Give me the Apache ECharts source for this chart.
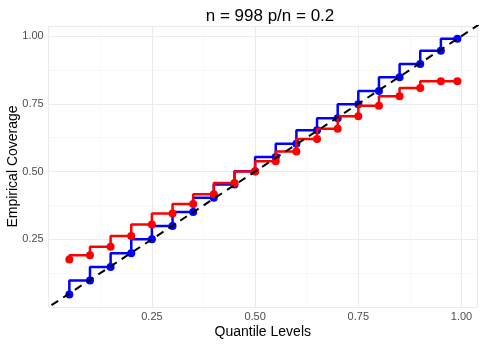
<!DOCTYPE html>
<html>
<head>
<meta charset="utf-8">
<script src="https://cdn.jsdelivr.net/npm/echarts@6/dist/echarts.min.js"></script>
<style>
  html, body { margin: 0; padding: 0; background: #fff; }
  #chart { width: 482px; height: 344px; }
</style>
</head>
<body>
<div id="chart"></div>
<script>
// quantile levels on the x axis
const levels = [0.05, 0.10, 0.15, 0.20, 0.25, 0.30, 0.35, 0.40, 0.45, 0.50,
                0.55, 0.60, 0.65, 0.70, 0.75, 0.80, 0.85, 0.90, 0.95, 0.99];
// empirical coverage
const blueCoverage = [0.046, 0.098, 0.148, 0.198, 0.250, 0.299, 0.351, 0.403, 0.452, 0.501,
                      0.554, 0.602, 0.652, 0.697, 0.748, 0.797, 0.848, 0.897, 0.946, 0.990];
const redCoverage = [0.175, 0.191, 0.222, 0.262, 0.304, 0.345, 0.380, 0.416, 0.458, 0.500,
                     0.538, 0.574, 0.620, 0.658, 0.704, 0.743, 0.778, 0.808, 0.833, 0.833];
// y = x reference line ends
const diagonal = [-0.05, 1.1];
const tickValues = [0.25, 0.50, 0.75, 1.00];

const FONT = "'Liberation Sans', Arial, sans-serif";

const chart = echarts.init(document.getElementById("chart"));

const isTick = v => tickValues.some(t => Math.abs(t - v) < 1e-9);

const axisCommon = {
  type: "value",
  interval: 0.25,
  min: 0,
  nameLocation: "middle",
  nameMoveOverlap: false,
  nameTextStyle: { fontFamily: FONT, fontSize: 14, color: "#000" },
  axisLine: { show: false },
  axisTick: { show: false },
  axisLabel: {
    fontFamily: FONT, fontSize: 11, color: "#4d4d4d",
    formatter: v => (isTick(v) ? v.toFixed(2) : "")
  },
  splitLine: { show: true, lineStyle: { color: "#ebebeb", width: 1.1 } },
  minorTick: { show: false, splitNumber: 2 },
  minorSplitLine: { show: true, lineStyle: { color: "#f4f4f4", width: 0.6 } }
};

const option = {
  animation: false,
  backgroundColor: "#fff",
  title: {
    text: "n = 998 p/n = 0.2",
    left: 265, top: 3, textAlign: "center",
    textStyle: { fontFamily: FONT, fontSize: 17, fontWeight: "normal", color: "#000" }
  },
  grid: { left: 48.7, right: 5.2, top: 26, bottom: 37, containLabel: false, outerBoundsMode: "none" },
  xAxis: Object.assign({}, axisCommon, {
    max: 1.037,
    name: "Quantile Levels",
    nameGap: 18,
    axisLabel: Object.assign({}, axisCommon.axisLabel, { margin: 4 })
  }),
  yAxis: Object.assign({}, axisCommon, {
    max: 1.037,
    name: "Empirical Coverage",
    nameGap: 28.5,
    axisLabel: Object.assign({}, axisCommon.axisLabel, { margin: 5 })
  }),
  series: [
    {
      name: "blue",
      type: "line",
      step: "start",
      data: levels.map((q, i) => [q, blueCoverage[i]]),
      symbol: "circle",
      symbolSize: 8,
      itemStyle: { color: "#0000ff" },
      lineStyle: { color: "#0000ff", width: 2.5 },
      z: 2
    },
    {
      name: "red",
      type: "line",
      step: "start",
      data: levels.map((q, i) => [q, redCoverage[i]]),
      symbol: "circle",
      symbolSize: 8,
      itemStyle: { color: "#ff0000" },
      lineStyle: { color: "#ff0000", width: 2.5 },
      z: 3
    },
    {
      name: "y = x",
      type: "line",
      data: diagonal.map(v => [v, v]),
      symbol: "none",
      clip: true,
      lineStyle: { color: "#000", width: 2, type: [8, 6] },
      z: 4
    }
  ]
};

chart.setOption(option);
window.addEventListener("resize", () => chart.resize());
</script>
</body>
</html>
